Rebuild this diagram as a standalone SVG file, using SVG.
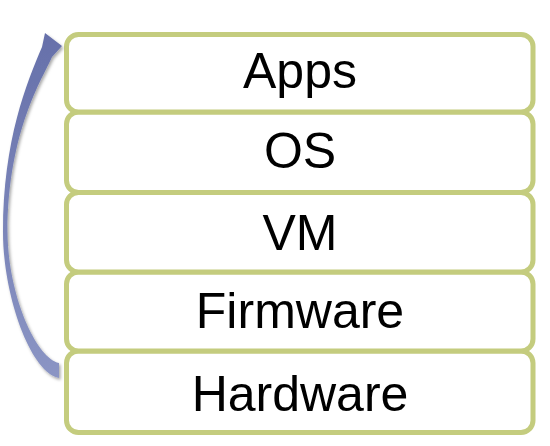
<svg xmlns="http://www.w3.org/2000/svg" width="550" height="446" viewBox="0 0 550 446">
  <style>
    .box { fill: #ffffff; stroke: #c4cc7e; stroke-width: 5; }
    .lbl { font-family: "Liberation Sans", Arial, sans-serif; font-size: 50px; fill: #000000; text-anchor: middle; }
  </style>
  <defs>
    <linearGradient id="arrowGrad" x1="0" y1="0" x2="0" y2="1">
      <stop offset="0" stop-color="#6670aa"/>
      <stop offset="1" stop-color="#8b95c4"/>
    </linearGradient>
    <filter id="shadow" x="-50%" y="-10%" width="200%" height="120%">
      <feDropShadow dx="1.5" dy="2" stdDeviation="1.6" flood-color="#000000" flood-opacity="0.35"/>
    </filter>
  </defs>
  <rect width="550" height="446" fill="#ffffff"/>

  <g id="node-hardware">
    <rect class="box" x="66.5" y="351" width="466.5" height="81.5" rx="12"/>
    <text class="lbl" x="300" y="411">Hardware</text>
  </g>
  <g id="node-firmware">
    <rect class="box" x="66.5" y="272" width="466.5" height="79" rx="12"/>
    <text class="lbl" x="300" y="328">Firmware</text>
  </g>
  <g id="node-vm">
    <rect class="box" x="66.5" y="192.5" width="466.5" height="79.5" rx="12"/>
    <text class="lbl" x="300" y="250">VM</text>
  </g>
  <g id="node-os">
    <rect class="box" x="66.5" y="112" width="466.5" height="80.5" rx="12"/>
    <text class="lbl" x="300" y="168">OS</text>
  </g>
  <g id="node-apps">
    <rect class="box" x="66.5" y="34.5" width="466.5" height="77.5" rx="12"/>
    <text class="lbl" x="300" y="88">Apps</text>
  </g>

  <g id="connectors">
    <path fill="url(#arrowGrad)" filter="url(#shadow)"
      d="M59,378 C30,372 3,295 3,232 C3,140 27,82 42,47 L45,33 L62,46 L52,57 C43,78 8,130 7.5,232 C8,295 36,358 59,363 Z"/>
  </g>
</svg>
